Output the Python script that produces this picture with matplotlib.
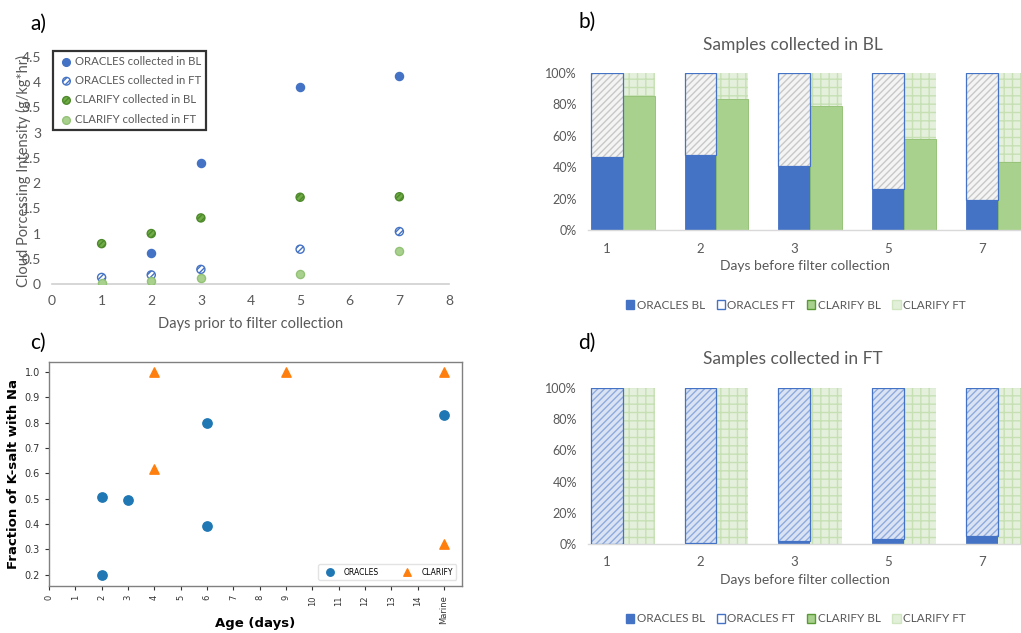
import matplotlib
matplotlib.use("Agg")
import matplotlib.pyplot as plt
from matplotlib.patches import Patch
import numpy as np

# ---------------- data ----------------
# panel a
a_days = [1, 2, 3, 5, 7]
a_oracles_bl_days = [2, 3, 5, 7]
a_oracles_bl = [0.62, 2.40, 3.90, 4.13]
a_oracles_ft = [0.13, 0.18, 0.29, 0.69, 1.04]
a_clarify_bl = [0.80, 1.00, 1.31, 1.72, 1.73]
a_clarify_ft = [0.02, 0.05, 0.11, 0.19, 0.65]

# panels b and d
bar_days = ["1", "2", "3", "5", "7"]
b_oracles_bl = [46.8, 47.7, 40.6, 26.4, 19.1]
b_clarify_bl = [85.5, 83.6, 79.1, 57.9, 43.6]
d_oracles_bl = [0.0, 0.9, 1.9, 3.4, 5.1]
d_clarify_bl = [0.0, 0.0, 0.0, 0.0, 0.0]

# panel c
c_oracles_x = [2, 2, 3, 6, 6, 15]
c_oracles_y = [0.199, 0.507, 0.493, 0.391, 0.799, 0.830]
c_clarify_x = [4, 4, 9, 15, 15]
c_clarify_y = [1.0, 0.616, 1.0, 1.0, 0.320]
c_xticklabels = [str(i) for i in range(15)] + ["Marine"]

# ---------------- figure ----------------
W, H = 1021, 633
fig = plt.figure(figsize=(W / 100, H / 100), dpi=100)
XL = "Lato"
GRAY = "#595959"
BLUE = "#4472C4"
GREEN = "#70AD47"
LGREEN = "#A9D18E"


def ax_px(l, t, r, b):
    return fig.add_axes([l / W, 1 - b / H, (r - l) / W, (b - t) / H])


# ---------- panel a ----------
axa = ax_px(52, 57, 449, 284)
axa.scatter(a_oracles_bl_days, a_oracles_bl, s=34, color=BLUE, edgecolor=BLUE,
            label="ORACLES collected in BL", zorder=3)
axa.scatter(a_days, a_oracles_ft, s=34, facecolor="white", edgecolor=BLUE,
            hatch="//////", linewidth=1.0, label="ORACLES collected in FT", zorder=3)
axa.scatter(a_days, a_clarify_bl, s=34, facecolor=GREEN, edgecolor="#4e8a2c",
            hatch="//////", linewidth=1.0, label="CLARIFY collected in BL", zorder=3)
axa.scatter(a_days, a_clarify_ft, s=34, facecolor=LGREEN, edgecolor="#93c276",
            linewidth=1.0, label="CLARIFY collected in FT", zorder=3)
axa.set_xlim(0, 8)
axa.set_ylim(0, 4.5)
axa.set_xticks(range(0, 9))
axa.set_yticks(np.arange(0, 4.51, 0.5))
axa.set_yticklabels(["0", "0.5", "1", "1.5", "2", "2.5", "3", "3.5", "4", "4.5"])
for s in ["top", "right", "left"]:
    axa.spines[s].set_visible(False)
axa.spines["bottom"].set_color("#d0d0d0")
axa.spines["bottom"].set_linewidth(1.2)
axa.tick_params(length=0, labelsize=10, labelcolor=GRAY, pad=8)
for t in axa.get_xticklabels() + axa.get_yticklabels():
    t.set_fontfamily(XL)
axa.set_xlabel("Days prior to filter collection", fontsize=10.5, color=GRAY,
               family=XL, labelpad=7)
fig.text(23 / W, 1 - 171 / H, "Cloud Porcessing Intensity (g/kg*hr)", rotation=90,
         ha="center", va="center", fontsize=10.5, color=GRAY, family=XL)
leg = axa.legend(loc="upper left", bbox_to_anchor=(0.002, 1.027), frameon=True,
                 fancybox=False, borderaxespad=0.0, handletextpad=0.0, borderpad=0.45,
                 labelspacing=0.72, handlelength=1.5, markerscale=0.95,
                 prop={"family": XL, "size": 8.2})
leg.get_frame().set_edgecolor("black")
leg.get_frame().set_linewidth(1.6)
for t in leg.get_texts():
    t.set_color(GRAY)

fig.text(30 / W, 1 - 24 / H, "a)", fontsize=15, family=XL, va="center", ha="left")


# ---------- panels b and d ----------
def stacked(ax, oracles_bl, clarify_bl, ft_hatch_color, ft_face):
    x = np.arange(len(bar_days))
    w = 0.34
    obl = np.array(oracles_bl)
    cbl = np.array(clarify_bl)
    oft = 100 - obl
    cft = 100 - cbl
    # ORACLES BL
    ax.bar(x, obl, w, color=BLUE, edgecolor=BLUE, linewidth=0.6, zorder=2)
    # ORACLES FT hatched
    ax.bar(x, oft, w, bottom=obl, color=ft_face, edgecolor=ft_hatch_color,
           hatch="/////", linewidth=0, zorder=2)
    ax.bar(x, oft, w, bottom=obl, facecolor="none", edgecolor=BLUE,
           linewidth=0.9, zorder=3)
    # CLARIFY BL
    ax.bar(x + w, cbl, w, color=LGREEN, edgecolor="#8cbd6c", linewidth=0.6, zorder=2)
    # CLARIFY FT dotted grid
    ax.bar(x + w, cft, w, bottom=cbl, color="#e4f0dc", edgecolor="#c6e0b4",
           hatch="++", linewidth=0, zorder=2)
    ax.set_xlim(-0.2, (1021 - 605.6) / 94)
    ax.set_ylim(0, 100)
    ax.set_yticks(range(0, 101, 20))
    ax.set_yticklabels([f"{v}%" for v in range(0, 101, 20)])
    ax.set_xticks(x)
    ax.set_xticklabels(bar_days)
    for s in ["top", "right", "left"]:
        ax.spines[s].set_visible(False)
    ax.spines["bottom"].set_color("#d9d9d9")
    ax.spines["bottom"].set_linewidth(1.0)
    ax.tick_params(length=0, labelsize=9, labelcolor=GRAY)
    ax.tick_params(axis="x", pad=9, labelsize=9.5)
    ax.tick_params(axis="y", pad=8)
    for t in ax.get_xticklabels() + ax.get_yticklabels():
        t.set_fontfamily(XL)
    ax.set_xlabel("Days before filter collection", fontsize=10, color=GRAY,
                  family=XL, labelpad=4)


axb = ax_px(588, 73, 1021, 230)
stacked(axb, b_oracles_bl, b_clarify_bl, "#c8c8c8", "#f4f4f4")
fig.text(793 / W, 1 - 45 / H, "Samples collected in BL", fontsize=12.5, color=GRAY,
         family=XL, ha="center", va="center")
fig.text(578 / W, 1 - 22 / H, "b)", fontsize=15, family=XL, va="center", ha="left")

axd = ax_px(588, 388, 1021, 544)
stacked(axd, d_oracles_bl, d_clarify_bl, "#8faadc", "#dae3f3")
fig.text(793 / W, 1 - 359 / H, "Samples collected in FT", fontsize=12.5, color=GRAY,
         family=XL, ha="center", va="center")
fig.text(578 / W, 1 - 343 / H, "d)", fontsize=15, family=XL, va="center", ha="left")

handles = [Patch(facecolor=BLUE, edgecolor=BLUE),
           Patch(facecolor="white", edgecolor=BLUE),
           Patch(facecolor=LGREEN, edgecolor="#5a9a35"),
           Patch(facecolor="#e2efd9", edgecolor="#d0e6c0")]
labels = ["ORACLES BL", "ORACLES FT", "CLARIFY BL", "CLARIFY FT"]
for ycen in (305, 619):
    lg = fig.legend(handles, labels, loc="center", bbox_to_anchor=(796 / W, 1 - ycen / H),
                    ncol=4, frameon=False, handlelength=0.7, handleheight=0.7,
                    handletextpad=0.2, columnspacing=1.0,
                    prop={"family": XL, "size": 8.5})
    for t in lg.get_texts():
        t.set_color(GRAY)

# ---------- panel c ----------
axc = ax_px(49, 362, 462, 586)
axc.scatter(c_oracles_x, c_oracles_y, s=45, color="#1f77b4", marker="o",
            label="ORACLES", zorder=3)
axc.scatter(c_clarify_x, c_clarify_y, s=45, color="#ff7f0e", marker="^",
            label="CLARIFY", zorder=3)
axc.set_xlim(0, 15.68)
axc.set_ylim(0.155, 1.039)
axc.set_xticks(range(16))
axc.set_xticklabels(c_xticklabels, rotation=90, fontsize=6)
axc.set_yticks(np.arange(0.2, 1.01, 0.1))
axc.set_yticklabels([f"{v:.1f}" for v in np.arange(0.2, 1.01, 0.1)], fontsize=7)
for s in axc.spines.values():
    s.set_color("#808080")
    s.set_linewidth(1.0)
axc.tick_params(colors="#333333", length=3, width=0.8, labelcolor="#333333")
fig.text(255 / W, 1 - 623 / H, "Age (days)", fontsize=9.5, fontweight="bold",
         ha="center", va="center")
axc.set_ylabel("Fraction of K-salt with Na", fontsize=9.5, fontweight="bold", labelpad=3)
lc = axc.legend(loc="lower right", ncol=2, fontsize=5.5, borderpad=0.45,
                columnspacing=2.6, handletextpad=0.9, markerscale=0.8,
                bbox_to_anchor=(0.995, 0.01))
lc.get_frame().set_edgecolor("#dddddd")
fig.text(30 / W, 1 - 343 / H, "c)", fontsize=15, family=XL, va="center", ha="left")

fig.savefig("out.png", dpi=100)
